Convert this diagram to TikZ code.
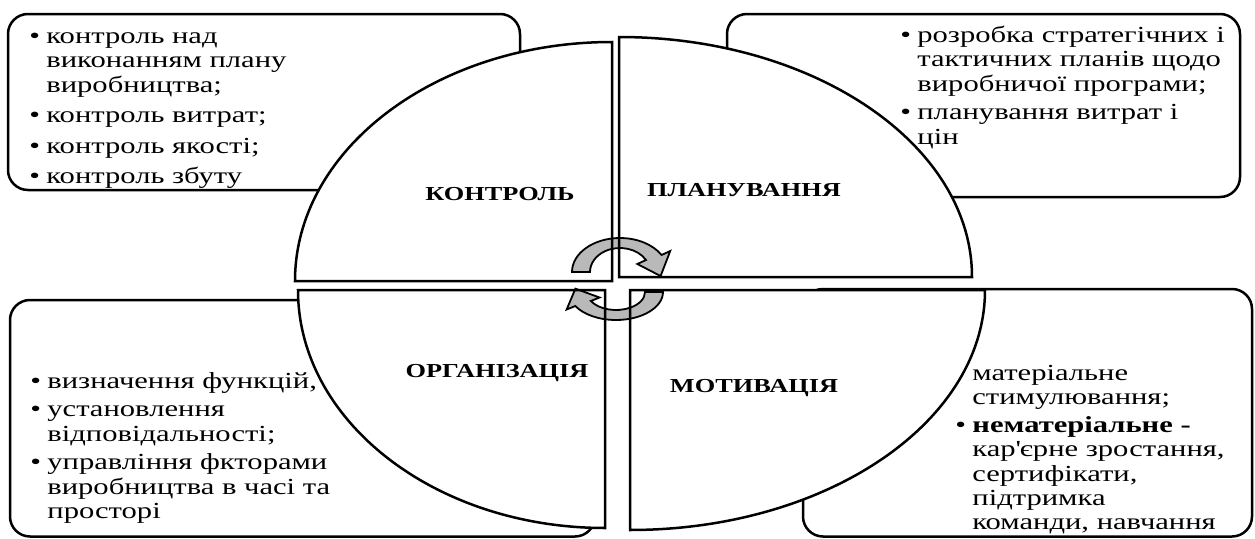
\documentclass[tikz,border=0pt]{standalone}
\usepackage{fontspec}
\setmainfont{Liberation Serif}[FakeStretch=1.33]
\newcommand{\itm}{\makebox[8.5pt][l]{\textbullet}}
\newcommand{\ind}{\hspace*{8.5pt}}

\begin{document}
\begin{tikzpicture}[
    x=0.5pt, y=0.5pt,
    box/.style={draw, line width=1.25pt, rounded corners=10pt, fill=white},
    quadline/.style={draw, line width=1.25pt},
    txt/.style={anchor=north west, align=left, inner sep=0pt, font=\fontsize{11.5}{12.2}\selectfont},
    head/.style={font=\fontsize{9.9}{11}\selectfont\bfseries},
    cyc/.style={draw, line width=0.9pt, fill=gray!55}
]
\useasboundingbox (0,0) rectangle (1255,538);

% boxes behind the circle
\draw[box] (8,348) rectangle (520,524);
\draw[box] (727,341) rectangle (1240,524);
\draw[box] (10,1.5) rectangle (595,238);
\draw[box] (803,1.5) rectangle (1252,249);

% quadrants, white fill first
\foreach \qx/\qy/\a/\b/\rx/\ry in {612/257/180/90/317/239, 619/261/90/0/353/240, 605/248/180/270/307/238, 630/248/0/-90/355/240}
  \fill[white] (\qx,\qy) -- ++(\a:{\rx} and {\ry}) arc[start angle=\a, end angle=\b, x radius=\rx, y radius=\ry] -- cycle;

% turning arrows in the middle
\begin{scope}[shift={(620,266)}]
\draw[cyc] (180:48 and 34) arc[start angle=180, end angle=30, x radius=48, y radius=34]
  -- (30:58 and 42) -- (-8:41 and 29) -- (30:20 and 16) -- (30:30 and 24)
  arc[start angle=30, end angle=180, x radius=30, y radius=24] -- cycle;
\end{scope}
\begin{scope}[shift={(616,246)}]
\draw[cyc] (0:47 and 28) arc[start angle=0, end angle=-150, x radius=47, y radius=28]
  -- (-150:57 and 35) -- (-188:41 and 24) -- (-150:19 and 11) -- (-150:29 and 18)
  arc[start angle=-150, end angle=0, x radius=29, y radius=18] -- cycle;
\end{scope}

% quadrant outlines
\foreach \qx/\qy/\a/\b/\rx/\ry in {612/257/180/90/317/239, 619/261/90/0/353/240, 605/248/180/270/307/238, 630/248/0/-90/355/240}
  \draw[quadline] (\qx,\qy) -- ++(\a:{\rx} and {\ry}) arc[start angle=\a, end angle=\b, x radius=\rx, y radius=\ry] -- cycle;

\node[head] (ctrl) at (500,344) {КОНТРОЛЬ};
\node[head] (plan) at (744,348) {ПЛАНУВАННЯ};
\node[head] (org) at (497,165) {ОРГАНІЗАЦІЯ};
\node[head] (motiv) at (754,150) {МОТИВАЦІЯ};

\node[txt] (ctrltxt) at (29,512) {\strut\itm контроль над\\
  \ind виконанням плану\\
  \ind виробництва;\\[3pt]
  \itm контроль витрат;\\[3pt]
  \itm контроль якості;\\[3pt]
  \itm контроль збуту};
\node[txt] (plantxt) at (900,513) {\strut\itm розробка стратегічних і\\
  \ind тактичних планів щодо\\
  \ind виробничої програми;\\[2pt]
  \itm планування витрат і\\
  \ind цін};
\node[txt] (orgtxt) at (30,167) {\strut\itm визначення функцій,\\[2pt]
  \itm установлення\\
  \ind відповідальності;\\[2pt]
  \itm управління фкторами\\
  \ind виробництва в часі та\\
  \ind просторі};
\node[txt] (motivtxt) at (955,175) {\strut\ind матеріальне\\
  \ind стимулювання;\\[1.5pt]
  \itm \textbf{нематеріальне -}\\
  \ind кар\textquotesingle єрне зростання,\\
  \ind сертифікати,\\
  \ind підтримка\\
  \ind команди, навчання};
\end{tikzpicture}
\end{document}
